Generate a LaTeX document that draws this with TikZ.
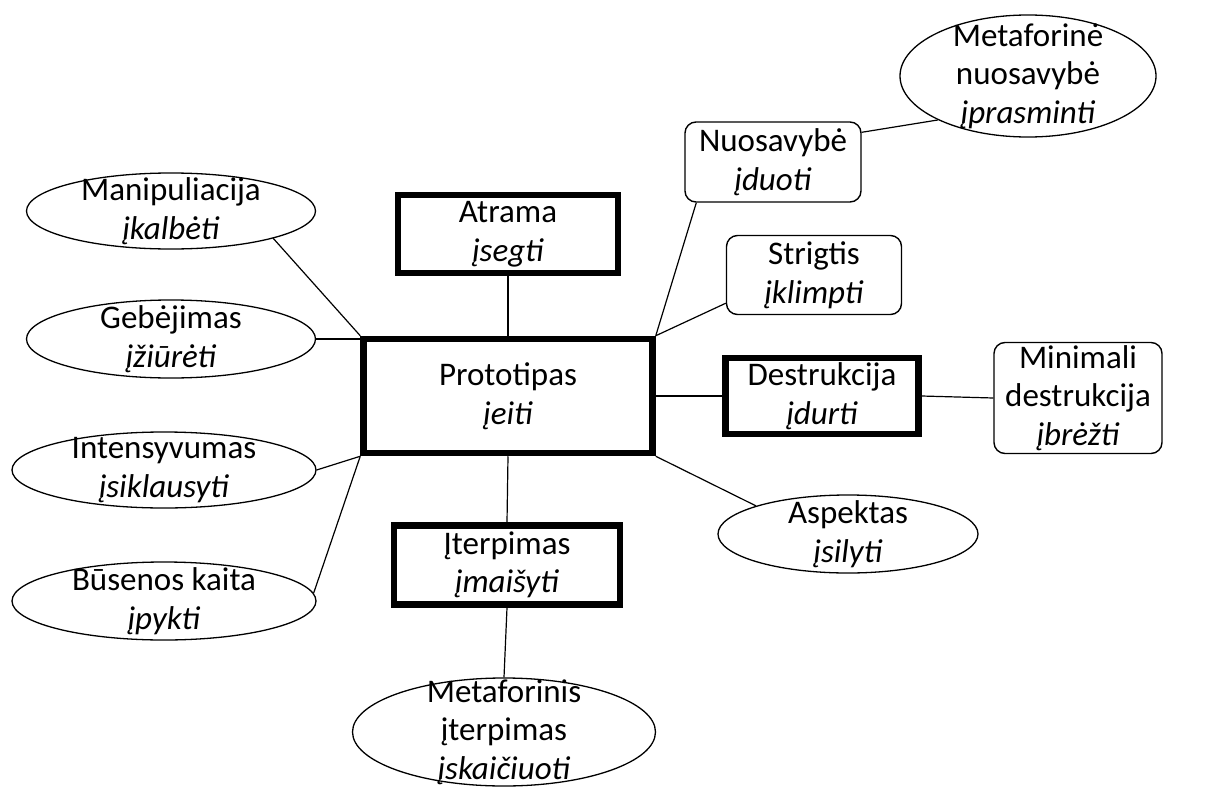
\documentclass[tikz,border=0pt]{standalone}
\usepackage{fontspec}
\setmainfont{Carlito}
\usetikzlibrary{shapes.geometric}
\begin{document}
\begin{tikzpicture}[x=1pt,y=-1pt,
  font=\fontsize{33}{38.5}\selectfont,
  conn/.style={draw=black, line width=1.2pt},
  thickbox/.style={draw, rectangle, line width=6.5pt, inner sep=0pt, align=center},
  rbox/.style={draw, rectangle, rounded corners=11pt, line width=1.4pt, inner sep=0pt, align=center},
  ell/.style={draw, ellipse, line width=1.3pt, inner sep=0pt},
  every label/.style={align=center, inner sep=0pt}]
\useasboundingbox (0,0) rectangle (1232,787);

% central and thick boxes
\node[thickbox, minimum width=289pt, minimum height=114pt] (proto) at (508,396) {Prototipas\\\textit{įeiti}};
\node[thickbox, minimum width=220pt, minimum height=78pt] (atr) at (508,234) {Atrama\\\textit{įsegti}};
\node[thickbox, minimum width=226pt, minimum height=79pt] (ite) at (507,565) {Įterpimas\\\textit{įmaišyti}};
\node[thickbox, minimum width=193pt, minimum height=76pt] (des) at (822,396) {Destrukcija\\\textit{įdurti}};

% rounded boxes
\node[rbox, minimum width=176pt, minimum height=80pt] (nuo) at (773,162) {Nuosavybė\\\textit{įduoti}};
\node[rbox, minimum width=175pt, minimum height=79pt] (str) at (814,275) {Strigtis\\\textit{įklimpti}};
\node[rbox, minimum width=168pt, minimum height=111pt] (min) at (1078,398) {Minimali\\destrukcija\\\textit{įbrėžti}};

% ellipses
\node[ell, minimum width=289pt, minimum height=76pt, label={center:{Manipuliacija\\\textit{įkalbėti}}}] (man) at (171,211) {};
\node[ell, minimum width=289pt, minimum height=78pt, label={center:{Gebėjimas\\\textit{įžiūrėti}}}] (geb) at (171,339) {};
\node[ell, minimum width=304pt, minimum height=76pt, label={center:{Intensyvumas\\\textit{įsiklausyti}}}] (int) at (164,470) {};
\node[ell, minimum width=304pt, minimum height=78pt, label={center:{Būsenos kaita\\\textit{įpykti}}}] (bus) at (164,601) {};
\node[ell, minimum width=303pt, minimum height=108pt, label={center:{Metaforinis\\įterpimas\\\textit{įskaičiuoti}}}] (metis) at (504,732) {};
\node[ell, minimum width=256pt, minimum height=122pt, label={center:{Metaforinė\\nuosavybė\\\textit{įprasminti}}}] (metaf) at (1028,76) {};
\node[ell, minimum width=260pt, minimum height=78pt, label={center:{Aspektas\\\textit{įsilyti}}}] (asp) at (848,534) {};

% connectors
\draw[conn] (man.-15) -- (proto.north west);
\draw[conn] (geb.east) -- (geb.east -| proto.west);
\draw[conn] (int.east) -- (proto.south west);
\draw[conn] (bus.3) -- (proto.south west);
\draw[conn] (atr.south) -- (proto.north);
\draw[conn] (proto.south) -- (ite.north);
\draw[conn] (ite.south) -- (metis.north);
\draw[conn] ([xshift=12pt]nuo.south west) -- (proto.north east);
\draw[conn] ([yshift=12pt]str.south west) -- (proto.north east);
\draw[conn] (proto.east) -- (des.west);
\draw[conn] (des.east) -- (min.west);
\draw[conn] ([yshift=-11pt]nuo.north east) -- (metaf.206);
\draw[conn] (proto.south east) -- (asp.163);
\end{tikzpicture}
\end{document}
